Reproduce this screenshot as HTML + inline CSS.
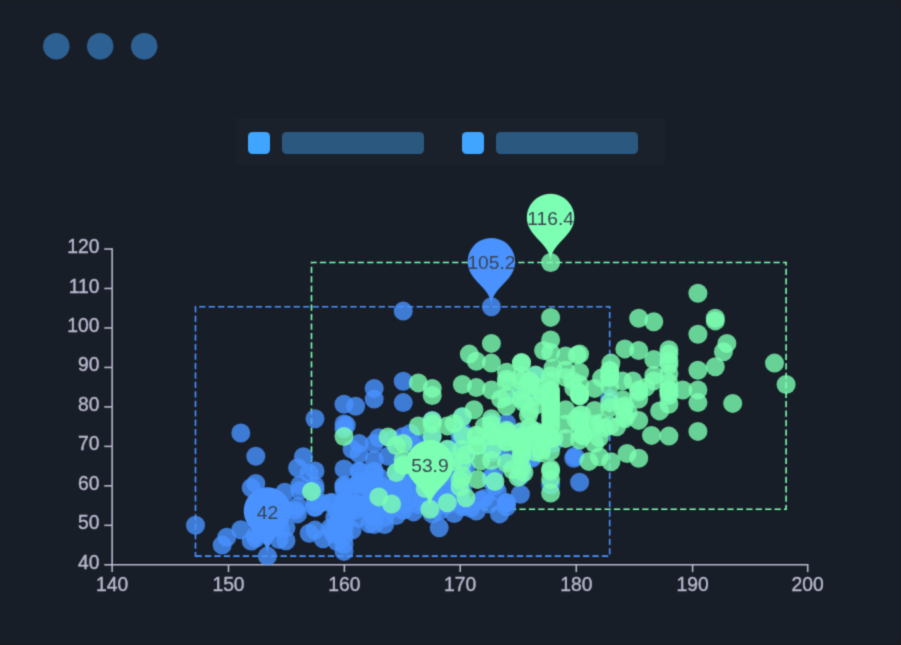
<!DOCTYPE html>
<html lang="en"><head><meta charset="utf-8"><title>Scatter</title>
<style>
html,body{margin:0;padding:0;background:#191c20;}
body{width:901px;height:645px;overflow:hidden;position:relative;font-family:"Liberation Sans",sans-serif;}
svg{position:absolute;left:0;top:0;display:block}
text{font-family:"Liberation Sans",sans-serif;}
.ax{font-size:19.3px;fill:#b9b8ce;stroke:#b9b8ce;stroke-width:0.4px;}
.pl{font-size:19.2px;fill:#3b4454;text-anchor:middle}
</style></head><body>
<svg width="901" height="645" viewBox="0 0 901 645">
<defs><filter id="soft" x="0" y="0" width="1" height="1" color-interpolation-filters="sRGB"><feConvolveMatrix order="3" kernelMatrix="1 4 1 4 16 4 1 4 1" divisor="36" edgeMode="duplicate" preserveAlpha="true"/></filter></defs>
<g filter="url(#soft)">
<rect width="901" height="645" fill="#191c20"/>
<rect x="-0.3" y="0.9" width="900.3" height="643.1" rx="5" fill="#181e28"/>

<circle cx="56.3" cy="46.2" r="13.2" fill="#2d6193"/>
<circle cx="100.2" cy="46.2" r="13.2" fill="#2d6193"/>
<circle cx="144.2" cy="46.2" r="13.2" fill="#2d6193"/>
<rect x="236" y="117.9" width="429.1" height="47.1" fill="#1a212a"/>
<rect x="248" y="132" width="22" height="22" rx="4.5" fill="#40a5ff"/>
<rect x="282" y="132" width="142" height="22" rx="4.5" fill="#2a587f"/>
<rect x="462" y="132" width="22" height="22" rx="4.5" fill="#40a5ff"/>
<rect x="496" y="132" width="142" height="22" rx="4.5" fill="#2a587f"/>
<path d="M195.5,556.1 H609.7 V306.7 H195.5 Z" fill="none" stroke="#4992ff" stroke-width="1.58" stroke-dasharray="6.3 3.15"/>
<path d="M311.5,509.2 H786.1 V262.5 H311.5 Z" fill="none" stroke="#7cffb2" stroke-width="1.58" stroke-dasharray="6.3 3.15"/>
<g stroke="#b9b8ce" stroke-width="1.58" fill="none">
<path d="M112.15,248.21 V565.59"/>
<path d="M111.36,564.80 H808.49"/>
<path d="M104.25,564.80 H112.15"/>
<path d="M104.25,525.32 H112.15"/>
<path d="M104.25,485.85 H112.15"/>
<path d="M104.25,446.37 H112.15"/>
<path d="M104.25,406.90 H112.15"/>
<path d="M104.25,367.42 H112.15"/>
<path d="M104.25,327.95 H112.15"/>
<path d="M104.25,288.47 H112.15"/>
<path d="M104.25,249.00 H112.15"/>
<path d="M112.15,564.80 V572.10"/>
<path d="M228.50,564.80 V572.10"/>
<path d="M344.40,564.80 V572.10"/>
<path d="M460.20,564.80 V572.10"/>
<path d="M576.30,564.80 V572.10"/>
<path d="M692.60,564.80 V572.10"/>
<path d="M807.70,564.80 V572.10"/>
</g>
<g class="ax">
<text x="99.5" y="568.8" text-anchor="end">40</text>
<text x="99.5" y="529.3" text-anchor="end">50</text>
<text x="99.5" y="489.8" text-anchor="end">60</text>
<text x="99.5" y="450.4" text-anchor="end">70</text>
<text x="99.5" y="410.9" text-anchor="end">80</text>
<text x="99.5" y="371.4" text-anchor="end">90</text>
<text x="99.5" y="331.9" text-anchor="end">100</text>
<text x="99.5" y="292.5" text-anchor="end">110</text>
<text x="99.5" y="253.0" text-anchor="end">120</text>
<text x="112.2" y="590.6" text-anchor="middle">140</text>
<text x="228.5" y="590.6" text-anchor="middle">150</text>
<text x="344.4" y="590.6" text-anchor="middle">160</text>
<text x="460.2" y="590.6" text-anchor="middle">170</text>
<text x="576.3" y="590.6" text-anchor="middle">180</text>
<text x="692.6" y="590.6" text-anchor="middle">190</text>
<text x="807.7" y="590.6" text-anchor="middle">200</text>
</g>
<defs><clipPath id="gc"><rect x="112.2" y="249.0" width="695.6" height="315.8"/></clipPath></defs>
<g fill="#4992ff" fill-opacity="0.8" clip-path="url(#gc)">
<circle cx="357.9" cy="518.2" r="9.5"/>
<circle cx="431.0" cy="489.0" r="9.5"/>
<circle cx="338.2" cy="527.7" r="9.5"/>
<circle cx="309.2" cy="473.2" r="9.5"/>
<circle cx="295.3" cy="510.3" r="9.5"/>
<circle cx="460.0" cy="489.0" r="9.5"/>
<circle cx="333.6" cy="534.0" r="9.5"/>
<circle cx="413.6" cy="446.4" r="9.5"/>
<circle cx="532.0" cy="458.2" r="9.5"/>
<circle cx="346.3" cy="425.1" r="9.5"/>
<circle cx="489.1" cy="504.0" r="9.5"/>
<circle cx="470.5" cy="508.0" r="9.5"/>
<circle cx="493.7" cy="475.2" r="9.5"/>
<circle cx="267.4" cy="556.1" r="9.5"/>
<circle cx="344.0" cy="524.5" r="9.5"/>
<circle cx="195.5" cy="525.3" r="9.5"/>
<circle cx="439.2" cy="527.7" r="9.5"/>
<circle cx="518.1" cy="433.0" r="9.5"/>
<circle cx="309.2" cy="533.2" r="9.5"/>
<circle cx="432.2" cy="450.4" r="9.5"/>
<circle cx="338.2" cy="522.2" r="9.5"/>
<circle cx="518.1" cy="396.3" r="9.5"/>
<circle cx="422.9" cy="496.1" r="9.5"/>
<circle cx="535.5" cy="375.4" r="9.5"/>
<circle cx="462.4" cy="434.6" r="9.5"/>
<circle cx="506.5" cy="506.8" r="9.5"/>
<circle cx="494.9" cy="485.9" r="9.5"/>
<circle cx="574.9" cy="456.3" r="9.5"/>
<circle cx="465.9" cy="454.3" r="9.5"/>
<circle cx="344.0" cy="536.4" r="9.5"/>
<circle cx="279.0" cy="539.5" r="9.5"/>
<circle cx="367.2" cy="504.8" r="9.5"/>
<circle cx="535.5" cy="394.3" r="9.5"/>
<circle cx="344.0" cy="507.2" r="9.5"/>
<circle cx="251.2" cy="541.1" r="9.5"/>
<circle cx="368.4" cy="510.3" r="9.5"/>
<circle cx="460.0" cy="433.0" r="9.5"/>
<circle cx="346.3" cy="516.3" r="9.5"/>
<circle cx="359.1" cy="453.9" r="9.5"/>
<circle cx="418.3" cy="498.5" r="9.5"/>
<circle cx="447.3" cy="476.0" r="9.5"/>
<circle cx="388.1" cy="491.0" r="9.5"/>
<circle cx="432.2" cy="506.8" r="9.5"/>
<circle cx="344.0" cy="523.8" r="9.5"/>
<circle cx="359.1" cy="483.9" r="9.5"/>
<circle cx="432.2" cy="491.8" r="9.5"/>
<circle cx="403.2" cy="500.1" r="9.5"/>
<circle cx="344.0" cy="523.8" r="9.5"/>
<circle cx="460.0" cy="434.2" r="9.5"/>
<circle cx="315.0" cy="485.9" r="9.5"/>
<circle cx="432.2" cy="481.1" r="9.5"/>
<circle cx="352.1" cy="449.2" r="9.5"/>
<circle cx="381.1" cy="501.3" r="9.5"/>
<circle cx="255.8" cy="538.4" r="9.5"/>
<circle cx="315.0" cy="507.6" r="9.5"/>
<circle cx="440.3" cy="505.6" r="9.5"/>
<circle cx="579.6" cy="482.3" r="9.5"/>
<circle cx="407.8" cy="485.1" r="9.5"/>
<circle cx="402.0" cy="477.2" r="9.5"/>
<circle cx="396.2" cy="483.9" r="9.5"/>
<circle cx="297.6" cy="513.9" r="9.5"/>
<circle cx="344.0" cy="428.7" r="9.5"/>
<circle cx="378.8" cy="477.2" r="9.5"/>
<circle cx="410.2" cy="433.4" r="9.5"/>
<circle cx="355.6" cy="406.2" r="9.5"/>
<circle cx="367.2" cy="506.0" r="9.5"/>
<circle cx="413.6" cy="511.9" r="9.5"/>
<circle cx="506.5" cy="423.1" r="9.5"/>
<circle cx="491.4" cy="480.7" r="9.5"/>
<circle cx="432.2" cy="502.0" r="9.5"/>
<circle cx="240.8" cy="529.7" r="9.5"/>
<circle cx="396.2" cy="515.5" r="9.5"/>
<circle cx="384.6" cy="524.5" r="9.5"/>
<circle cx="251.2" cy="487.8" r="9.5"/>
<circle cx="448.4" cy="475.2" r="9.5"/>
<circle cx="390.4" cy="502.0" r="9.5"/>
<circle cx="357.9" cy="505.6" r="9.5"/>
<circle cx="286.0" cy="540.7" r="9.5"/>
<circle cx="460.0" cy="443.3" r="9.5"/>
<circle cx="532.0" cy="456.7" r="9.5"/>
<circle cx="460.0" cy="448.0" r="9.5"/>
<circle cx="373.0" cy="492.2" r="9.5"/>
<circle cx="463.5" cy="466.1" r="9.5"/>
<circle cx="391.6" cy="439.3" r="9.5"/>
<circle cx="454.2" cy="513.5" r="9.5"/>
<circle cx="381.1" cy="485.9" r="9.5"/>
<circle cx="280.2" cy="528.5" r="9.5"/>
<circle cx="341.7" cy="524.5" r="9.5"/>
<circle cx="497.2" cy="448.8" r="9.5"/>
<circle cx="460.0" cy="501.3" r="9.5"/>
<circle cx="360.3" cy="471.7" r="9.5"/>
<circle cx="448.4" cy="492.2" r="9.5"/>
<circle cx="416.0" cy="490.6" r="9.5"/>
<circle cx="337.1" cy="541.5" r="9.5"/>
<circle cx="373.0" cy="515.9" r="9.5"/>
<circle cx="332.4" cy="530.1" r="9.5"/>
<circle cx="376.5" cy="493.8" r="9.5"/>
<circle cx="332.4" cy="502.4" r="9.5"/>
<circle cx="573.8" cy="458.2" r="9.5"/>
<circle cx="377.7" cy="487.4" r="9.5"/>
<circle cx="355.6" cy="510.3" r="9.5"/>
<circle cx="240.8" cy="433.0" r="9.5"/>
<circle cx="439.2" cy="511.1" r="9.5"/>
<circle cx="447.3" cy="449.6" r="9.5"/>
<circle cx="497.2" cy="491.4" r="9.5"/>
<circle cx="480.9" cy="500.1" r="9.5"/>
<circle cx="552.9" cy="443.3" r="9.5"/>
<circle cx="393.9" cy="485.9" r="9.5"/>
<circle cx="378.8" cy="437.7" r="9.5"/>
<circle cx="442.6" cy="464.6" r="9.5"/>
<circle cx="422.9" cy="498.5" r="9.5"/>
<circle cx="491.4" cy="306.7" r="9.5"/>
<circle cx="384.6" cy="517.4" r="9.5"/>
<circle cx="453.1" cy="471.7" r="9.5"/>
<circle cx="434.5" cy="489.0" r="9.5"/>
<circle cx="338.2" cy="534.0" r="9.5"/>
<circle cx="432.2" cy="473.2" r="9.5"/>
<circle cx="357.9" cy="504.0" r="9.5"/>
<circle cx="344.0" cy="544.3" r="9.5"/>
<circle cx="381.1" cy="508.8" r="9.5"/>
<circle cx="369.5" cy="523.8" r="9.5"/>
<circle cx="359.1" cy="484.3" r="9.5"/>
<circle cx="222.2" cy="545.1" r="9.5"/>
<circle cx="315.0" cy="489.8" r="9.5"/>
<circle cx="381.1" cy="499.3" r="9.5"/>
<circle cx="491.4" cy="477.2" r="9.5"/>
<circle cx="286.0" cy="527.7" r="9.5"/>
<circle cx="303.4" cy="456.7" r="9.5"/>
<circle cx="390.4" cy="509.5" r="9.5"/>
<circle cx="354.5" cy="507.2" r="9.5"/>
<circle cx="376.5" cy="493.0" r="9.5"/>
<circle cx="425.2" cy="485.9" r="9.5"/>
<circle cx="344.0" cy="505.6" r="9.5"/>
<circle cx="344.0" cy="551.4" r="9.5"/>
<circle cx="447.3" cy="483.1" r="9.5"/>
<circle cx="323.1" cy="538.7" r="9.5"/>
<circle cx="297.6" cy="467.7" r="9.5"/>
<circle cx="344.0" cy="529.3" r="9.5"/>
<circle cx="426.4" cy="476.4" r="9.5"/>
<circle cx="320.8" cy="502.8" r="9.5"/>
<circle cx="432.2" cy="493.8" r="9.5"/>
<circle cx="297.6" cy="506.4" r="9.5"/>
<circle cx="368.4" cy="488.2" r="9.5"/>
<circle cx="499.5" cy="513.9" r="9.5"/>
<circle cx="341.7" cy="511.9" r="9.5"/>
<circle cx="465.9" cy="467.3" r="9.5"/>
<circle cx="334.7" cy="517.4" r="9.5"/>
<circle cx="315.0" cy="500.9" r="9.5"/>
<circle cx="359.1" cy="470.9" r="9.5"/>
<circle cx="374.2" cy="472.5" r="9.5"/>
<circle cx="344.0" cy="487.1" r="9.5"/>
<circle cx="447.3" cy="497.7" r="9.5"/>
<circle cx="403.2" cy="468.9" r="9.5"/>
<circle cx="374.2" cy="524.5" r="9.5"/>
<circle cx="403.2" cy="436.5" r="9.5"/>
<circle cx="418.3" cy="504.8" r="9.5"/>
<circle cx="344.0" cy="501.3" r="9.5"/>
<circle cx="255.8" cy="483.5" r="9.5"/>
<circle cx="462.4" cy="449.2" r="9.5"/>
<circle cx="374.2" cy="388.4" r="9.5"/>
<circle cx="462.4" cy="501.3" r="9.5"/>
<circle cx="330.1" cy="502.8" r="9.5"/>
<circle cx="491.4" cy="447.6" r="9.5"/>
<circle cx="432.2" cy="420.4" r="9.5"/>
<circle cx="374.2" cy="479.6" r="9.5"/>
<circle cx="432.2" cy="461.8" r="9.5"/>
<circle cx="299.9" cy="490.6" r="9.5"/>
<circle cx="520.4" cy="458.2" r="9.5"/>
<circle cx="484.4" cy="498.5" r="9.5"/>
<circle cx="374.2" cy="490.6" r="9.5"/>
<circle cx="344.0" cy="501.3" r="9.5"/>
<circle cx="403.2" cy="488.6" r="9.5"/>
<circle cx="609.7" cy="399.1" r="9.5"/>
<circle cx="418.3" cy="442.9" r="9.5"/>
<circle cx="403.2" cy="497.7" r="9.5"/>
<circle cx="550.6" cy="485.1" r="9.5"/>
<circle cx="403.2" cy="492.2" r="9.5"/>
<circle cx="521.5" cy="435.0" r="9.5"/>
<circle cx="284.8" cy="508.4" r="9.5"/>
<circle cx="330.1" cy="528.1" r="9.5"/>
<circle cx="491.4" cy="422.3" r="9.5"/>
<circle cx="447.3" cy="504.8" r="9.5"/>
<circle cx="359.1" cy="495.7" r="9.5"/>
<circle cx="432.2" cy="504.8" r="9.5"/>
<circle cx="403.2" cy="463.4" r="9.5"/>
<circle cx="521.5" cy="463.4" r="9.5"/>
<circle cx="315.0" cy="530.1" r="9.5"/>
<circle cx="388.1" cy="490.6" r="9.5"/>
<circle cx="432.2" cy="470.9" r="9.5"/>
<circle cx="403.2" cy="504.0" r="9.5"/>
<circle cx="403.2" cy="474.4" r="9.5"/>
<circle cx="447.3" cy="498.5" r="9.5"/>
<circle cx="374.2" cy="509.2" r="9.5"/>
<circle cx="396.2" cy="472.5" r="9.5"/>
<circle cx="535.5" cy="431.4" r="9.5"/>
<circle cx="447.3" cy="477.2" r="9.5"/>
<circle cx="521.5" cy="470.9" r="9.5"/>
<circle cx="337.1" cy="511.9" r="9.5"/>
<circle cx="344.0" cy="511.1" r="9.5"/>
<circle cx="462.4" cy="504.8" r="9.5"/>
<circle cx="374.2" cy="443.6" r="9.5"/>
<circle cx="432.2" cy="506.8" r="9.5"/>
<circle cx="374.2" cy="506.8" r="9.5"/>
<circle cx="352.1" cy="501.3" r="9.5"/>
<circle cx="344.0" cy="489.0" r="9.5"/>
<circle cx="315.0" cy="470.9" r="9.5"/>
<circle cx="374.2" cy="506.8" r="9.5"/>
<circle cx="255.8" cy="535.2" r="9.5"/>
<circle cx="462.4" cy="454.7" r="9.5"/>
<circle cx="403.2" cy="402.6" r="9.5"/>
<circle cx="491.4" cy="443.6" r="9.5"/>
<circle cx="403.2" cy="481.5" r="9.5"/>
<circle cx="462.4" cy="470.9" r="9.5"/>
<circle cx="462.4" cy="506.8" r="9.5"/>
<circle cx="462.4" cy="488.6" r="9.5"/>
<circle cx="359.1" cy="443.6" r="9.5"/>
<circle cx="432.2" cy="513.9" r="9.5"/>
<circle cx="432.2" cy="474.4" r="9.5"/>
<circle cx="403.2" cy="381.3" r="9.5"/>
<circle cx="374.2" cy="459.8" r="9.5"/>
<circle cx="255.8" cy="456.3" r="9.5"/>
<circle cx="447.3" cy="473.2" r="9.5"/>
<circle cx="462.4" cy="431.4" r="9.5"/>
<circle cx="520.4" cy="476.0" r="9.5"/>
<circle cx="520.4" cy="494.2" r="9.5"/>
<circle cx="344.0" cy="503.2" r="9.5"/>
<circle cx="403.2" cy="311.1" r="9.5"/>
<circle cx="506.5" cy="502.8" r="9.5"/>
<circle cx="462.4" cy="416.8" r="9.5"/>
<circle cx="344.0" cy="404.2" r="9.5"/>
<circle cx="432.2" cy="467.3" r="9.5"/>
<circle cx="432.2" cy="436.5" r="9.5"/>
<circle cx="432.2" cy="479.6" r="9.5"/>
<circle cx="284.8" cy="492.2" r="9.5"/>
<circle cx="374.2" cy="399.1" r="9.5"/>
<circle cx="521.5" cy="470.9" r="9.5"/>
<circle cx="476.3" cy="511.1" r="9.5"/>
<circle cx="315.0" cy="506.8" r="9.5"/>
<circle cx="403.2" cy="510.3" r="9.5"/>
<circle cx="344.0" cy="485.1" r="9.5"/>
<circle cx="506.5" cy="431.4" r="9.5"/>
<circle cx="374.2" cy="479.6" r="9.5"/>
<circle cx="506.5" cy="502.8" r="9.5"/>
<circle cx="374.2" cy="470.9" r="9.5"/>
<circle cx="359.1" cy="481.5" r="9.5"/>
<circle cx="299.9" cy="485.1" r="9.5"/>
<circle cx="226.8" cy="537.2" r="9.5"/>
<circle cx="454.2" cy="495.7" r="9.5"/>
<circle cx="344.0" cy="468.9" r="9.5"/>
<circle cx="521.5" cy="470.9" r="9.5"/>
<circle cx="454.2" cy="456.3" r="9.5"/>
<circle cx="344.0" cy="423.9" r="9.5"/>
<circle cx="491.4" cy="452.7" r="9.5"/>
<circle cx="374.2" cy="479.6" r="9.5"/>
<circle cx="315.0" cy="418.8" r="9.5"/>
<circle cx="535.5" cy="438.5" r="9.5"/>
<circle cx="395.1" cy="502.8" r="9.5"/>
<circle cx="352.1" cy="530.1" r="9.5"/>
<circle cx="506.5" cy="459.8" r="9.5"/>
<circle cx="388.1" cy="456.3" r="9.5"/>
</g>
<g fill="#7cffb2" fill-opacity="0.8" clip-path="url(#gc)">
<circle cx="506.5" cy="463.0" r="9.5"/>
<circle cx="521.5" cy="438.5" r="9.5"/>
<circle cx="732.7" cy="403.4" r="9.5"/>
<circle cx="651.5" cy="435.4" r="9.5"/>
<circle cx="659.6" cy="410.9" r="9.5"/>
<circle cx="593.5" cy="426.7" r="9.5"/>
<circle cx="622.5" cy="380.9" r="9.5"/>
<circle cx="628.3" cy="412.5" r="9.5"/>
<circle cx="518.1" cy="477.2" r="9.5"/>
<circle cx="622.5" cy="399.8" r="9.5"/>
<circle cx="576.1" cy="419.6" r="9.5"/>
<circle cx="550.6" cy="392.0" r="9.5"/>
<circle cx="715.3" cy="366.7" r="9.5"/>
<circle cx="529.7" cy="427.5" r="9.5"/>
<circle cx="506.5" cy="441.7" r="9.5"/>
<circle cx="622.5" cy="407.7" r="9.5"/>
<circle cx="723.4" cy="351.7" r="9.5"/>
<circle cx="477.5" cy="445.6" r="9.5"/>
<circle cx="494.9" cy="436.1" r="9.5"/>
<circle cx="529.7" cy="382.9" r="9.5"/>
<circle cx="529.7" cy="410.9" r="9.5"/>
<circle cx="581.9" cy="414.8" r="9.5"/>
<circle cx="491.4" cy="460.6" r="9.5"/>
<circle cx="529.7" cy="380.9" r="9.5"/>
<circle cx="500.7" cy="399.1" r="9.5"/>
<circle cx="552.9" cy="368.3" r="9.5"/>
<circle cx="579.6" cy="395.1" r="9.5"/>
<circle cx="579.6" cy="420.4" r="9.5"/>
<circle cx="396.2" cy="472.5" r="9.5"/>
<circle cx="494.9" cy="481.5" r="9.5"/>
<circle cx="616.7" cy="426.7" r="9.5"/>
<circle cx="523.9" cy="445.6" r="9.5"/>
<circle cx="668.9" cy="436.1" r="9.5"/>
<circle cx="682.8" cy="390.0" r="9.5"/>
<circle cx="492.5" cy="449.2" r="9.5"/>
<circle cx="460.0" cy="487.1" r="9.5"/>
<circle cx="599.3" cy="456.7" r="9.5"/>
<circle cx="460.0" cy="480.0" r="9.5"/>
<circle cx="550.6" cy="451.1" r="9.5"/>
<circle cx="624.8" cy="405.8" r="9.5"/>
<circle cx="653.8" cy="375.4" r="9.5"/>
<circle cx="476.3" cy="387.6" r="9.5"/>
<circle cx="491.4" cy="432.2" r="9.5"/>
<circle cx="521.5" cy="437.3" r="9.5"/>
<circle cx="579.6" cy="395.9" r="9.5"/>
<circle cx="609.7" cy="371.8" r="9.5"/>
<circle cx="668.9" cy="390.0" r="9.5"/>
<circle cx="543.6" cy="350.5" r="9.5"/>
<circle cx="484.4" cy="426.3" r="9.5"/>
<circle cx="425.2" cy="488.6" r="9.5"/>
<circle cx="454.2" cy="423.5" r="9.5"/>
<circle cx="506.5" cy="381.7" r="9.5"/>
<circle cx="491.4" cy="424.7" r="9.5"/>
<circle cx="601.6" cy="378.1" r="9.5"/>
<circle cx="391.6" cy="504.0" r="9.5"/>
<circle cx="378.8" cy="496.9" r="9.5"/>
<circle cx="477.5" cy="479.6" r="9.5"/>
<circle cx="624.8" cy="418.8" r="9.5"/>
<circle cx="506.5" cy="379.3" r="9.5"/>
<circle cx="506.5" cy="436.9" r="9.5"/>
<circle cx="541.3" cy="439.3" r="9.5"/>
<circle cx="645.7" cy="387.2" r="9.5"/>
<circle cx="425.2" cy="452.7" r="9.5"/>
<circle cx="480.9" cy="461.0" r="9.5"/>
<circle cx="599.3" cy="437.7" r="9.5"/>
<circle cx="425.2" cy="466.9" r="9.5"/>
<circle cx="550.6" cy="426.7" r="9.5"/>
<circle cx="396.2" cy="445.6" r="9.5"/>
<circle cx="715.3" cy="320.9" r="9.5"/>
<circle cx="523.9" cy="472.5" r="9.5"/>
<circle cx="474.0" cy="409.7" r="9.5"/>
<circle cx="594.6" cy="410.5" r="9.5"/>
<circle cx="429.9" cy="454.7" r="9.5"/>
<circle cx="588.8" cy="461.4" r="9.5"/>
<circle cx="541.3" cy="452.7" r="9.5"/>
<circle cx="512.3" cy="469.7" r="9.5"/>
<circle cx="547.1" cy="437.7" r="9.5"/>
<circle cx="465.9" cy="497.7" r="9.5"/>
<circle cx="603.9" cy="427.9" r="9.5"/>
<circle cx="774.5" cy="363.1" r="9.5"/>
<circle cx="577.2" cy="354.9" r="9.5"/>
<circle cx="523.9" cy="402.6" r="9.5"/>
<circle cx="583.0" cy="435.0" r="9.5"/>
<circle cx="627.1" cy="453.5" r="9.5"/>
<circle cx="523.9" cy="442.1" r="9.5"/>
<circle cx="583.0" cy="435.8" r="9.5"/>
<circle cx="541.3" cy="435.8" r="9.5"/>
<circle cx="542.4" cy="392.7" r="9.5"/>
<circle cx="594.6" cy="423.9" r="9.5"/>
<circle cx="535.5" cy="433.8" r="9.5"/>
<circle cx="518.1" cy="444.8" r="9.5"/>
<circle cx="506.5" cy="432.2" r="9.5"/>
<circle cx="403.2" cy="443.6" r="9.5"/>
<circle cx="541.3" cy="450.0" r="9.5"/>
<circle cx="715.3" cy="318.2" r="9.5"/>
<circle cx="535.5" cy="451.9" r="9.5"/>
<circle cx="453.1" cy="461.8" r="9.5"/>
<circle cx="600.4" cy="423.1" r="9.5"/>
<circle cx="573.8" cy="388.4" r="9.5"/>
<circle cx="521.5" cy="375.8" r="9.5"/>
<circle cx="632.9" cy="380.9" r="9.5"/>
<circle cx="544.8" cy="433.0" r="9.5"/>
<circle cx="429.9" cy="509.2" r="9.5"/>
<circle cx="554.0" cy="437.7" r="9.5"/>
<circle cx="447.3" cy="502.8" r="9.5"/>
<circle cx="311.5" cy="491.4" r="9.5"/>
<circle cx="579.6" cy="393.5" r="9.5"/>
<circle cx="462.4" cy="435.0" r="9.5"/>
<circle cx="550.6" cy="468.9" r="9.5"/>
<circle cx="491.4" cy="436.5" r="9.5"/>
<circle cx="403.2" cy="465.4" r="9.5"/>
<circle cx="653.8" cy="380.9" r="9.5"/>
<circle cx="403.2" cy="465.4" r="9.5"/>
<circle cx="506.5" cy="372.2" r="9.5"/>
<circle cx="521.5" cy="390.0" r="9.5"/>
<circle cx="638.7" cy="458.2" r="9.5"/>
<circle cx="550.6" cy="423.9" r="9.5"/>
<circle cx="579.6" cy="354.1" r="9.5"/>
<circle cx="579.6" cy="395.5" r="9.5"/>
<circle cx="550.6" cy="493.0" r="9.5"/>
<circle cx="550.6" cy="408.1" r="9.5"/>
<circle cx="550.6" cy="411.7" r="9.5"/>
<circle cx="550.6" cy="438.5" r="9.5"/>
<circle cx="550.6" cy="262.5" r="9.5"/>
<circle cx="388.1" cy="436.9" r="9.5"/>
<circle cx="668.9" cy="392.0" r="9.5"/>
<circle cx="786.1" cy="384.5" r="9.5"/>
<circle cx="521.5" cy="363.1" r="9.5"/>
<circle cx="418.3" cy="382.9" r="9.5"/>
<circle cx="697.9" cy="370.3" r="9.5"/>
<circle cx="418.3" cy="425.9" r="9.5"/>
<circle cx="550.6" cy="415.2" r="9.5"/>
<circle cx="572.6" cy="380.9" r="9.5"/>
<circle cx="491.4" cy="363.1" r="9.5"/>
<circle cx="697.9" cy="431.4" r="9.5"/>
<circle cx="638.7" cy="420.4" r="9.5"/>
<circle cx="447.3" cy="449.2" r="9.5"/>
<circle cx="432.2" cy="388.4" r="9.5"/>
<circle cx="521.5" cy="467.3" r="9.5"/>
<circle cx="462.4" cy="449.2" r="9.5"/>
<circle cx="697.9" cy="293.3" r="9.5"/>
<circle cx="550.6" cy="380.9" r="9.5"/>
<circle cx="697.9" cy="402.6" r="9.5"/>
<circle cx="550.6" cy="375.8" r="9.5"/>
<circle cx="624.8" cy="348.9" r="9.5"/>
<circle cx="535.5" cy="405.4" r="9.5"/>
<circle cx="550.6" cy="437.7" r="9.5"/>
<circle cx="579.6" cy="440.1" r="9.5"/>
<circle cx="476.3" cy="435.0" r="9.5"/>
<circle cx="491.4" cy="390.0" r="9.5"/>
<circle cx="491.4" cy="418.8" r="9.5"/>
<circle cx="550.6" cy="470.9" r="9.5"/>
<circle cx="550.6" cy="402.6" r="9.5"/>
<circle cx="609.7" cy="402.6" r="9.5"/>
<circle cx="462.4" cy="384.5" r="9.5"/>
<circle cx="432.2" cy="451.1" r="9.5"/>
<circle cx="521.5" cy="454.7" r="9.5"/>
<circle cx="403.2" cy="459.8" r="9.5"/>
<circle cx="638.7" cy="318.2" r="9.5"/>
<circle cx="594.6" cy="443.6" r="9.5"/>
<circle cx="491.4" cy="343.4" r="9.5"/>
<circle cx="697.9" cy="390.0" r="9.5"/>
<circle cx="565.6" cy="377.4" r="9.5"/>
<circle cx="521.5" cy="438.5" r="9.5"/>
<circle cx="462.4" cy="461.8" r="9.5"/>
<circle cx="726.9" cy="343.4" r="9.5"/>
<circle cx="476.3" cy="361.2" r="9.5"/>
<circle cx="550.6" cy="399.1" r="9.5"/>
<circle cx="550.6" cy="339.9" r="9.5"/>
<circle cx="432.2" cy="449.2" r="9.5"/>
<circle cx="432.2" cy="395.5" r="9.5"/>
<circle cx="579.6" cy="423.9" r="9.5"/>
<circle cx="609.7" cy="408.1" r="9.5"/>
<circle cx="535.5" cy="431.4" r="9.5"/>
<circle cx="653.8" cy="359.6" r="9.5"/>
<circle cx="668.9" cy="390.0" r="9.5"/>
<circle cx="668.9" cy="382.9" r="9.5"/>
<circle cx="550.6" cy="399.1" r="9.5"/>
<circle cx="506.5" cy="396.3" r="9.5"/>
<circle cx="550.6" cy="404.2" r="9.5"/>
<circle cx="476.3" cy="445.6" r="9.5"/>
<circle cx="638.7" cy="399.1" r="9.5"/>
<circle cx="638.7" cy="390.0" r="9.5"/>
<circle cx="668.9" cy="364.7" r="9.5"/>
<circle cx="668.9" cy="361.2" r="9.5"/>
<circle cx="609.7" cy="370.3" r="9.5"/>
<circle cx="535.5" cy="386.4" r="9.5"/>
<circle cx="521.5" cy="449.2" r="9.5"/>
<circle cx="521.5" cy="431.4" r="9.5"/>
<circle cx="668.9" cy="404.2" r="9.5"/>
<circle cx="668.9" cy="395.5" r="9.5"/>
<circle cx="521.5" cy="380.9" r="9.5"/>
<circle cx="465.9" cy="454.7" r="9.5"/>
<circle cx="565.6" cy="356.0" r="9.5"/>
<circle cx="550.6" cy="352.5" r="9.5"/>
<circle cx="521.5" cy="442.1" r="9.5"/>
<circle cx="609.7" cy="425.9" r="9.5"/>
<circle cx="469.3" cy="354.1" r="9.5"/>
<circle cx="668.9" cy="354.1" r="9.5"/>
<circle cx="579.6" cy="415.2" r="9.5"/>
<circle cx="550.6" cy="479.6" r="9.5"/>
<circle cx="638.7" cy="350.5" r="9.5"/>
<circle cx="447.3" cy="425.9" r="9.5"/>
<circle cx="638.7" cy="392.0" r="9.5"/>
<circle cx="579.6" cy="384.5" r="9.5"/>
<circle cx="506.5" cy="430.2" r="9.5"/>
<circle cx="432.2" cy="458.2" r="9.5"/>
<circle cx="609.7" cy="377.4" r="9.5"/>
<circle cx="344.0" cy="436.5" r="9.5"/>
<circle cx="579.6" cy="372.2" r="9.5"/>
<circle cx="432.2" cy="423.9" r="9.5"/>
<circle cx="653.8" cy="321.7" r="9.5"/>
<circle cx="521.5" cy="362.4" r="9.5"/>
<circle cx="521.5" cy="456.3" r="9.5"/>
<circle cx="528.5" cy="415.2" r="9.5"/>
<circle cx="521.5" cy="399.1" r="9.5"/>
<circle cx="565.6" cy="423.9" r="9.5"/>
<circle cx="594.6" cy="388.4" r="9.5"/>
<circle cx="550.6" cy="419.6" r="9.5"/>
<circle cx="609.7" cy="386.4" r="9.5"/>
<circle cx="550.6" cy="317.4" r="9.5"/>
<circle cx="624.8" cy="416.8" r="9.5"/>
<circle cx="565.6" cy="438.5" r="9.5"/>
<circle cx="535.5" cy="375.0" r="9.5"/>
<circle cx="668.9" cy="349.7" r="9.5"/>
<circle cx="506.5" cy="442.1" r="9.5"/>
<circle cx="432.2" cy="467.3" r="9.5"/>
<circle cx="476.3" cy="436.5" r="9.5"/>
<circle cx="609.7" cy="377.4" r="9.5"/>
<circle cx="432.2" cy="436.5" r="9.5"/>
<circle cx="462.4" cy="416.8" r="9.5"/>
<circle cx="506.5" cy="406.2" r="9.5"/>
<circle cx="668.9" cy="373.8" r="9.5"/>
<circle cx="535.5" cy="397.1" r="9.5"/>
<circle cx="579.6" cy="433.0" r="9.5"/>
<circle cx="432.2" cy="420.8" r="9.5"/>
<circle cx="610.9" cy="461.8" r="9.5"/>
<circle cx="610.9" cy="363.1" r="9.5"/>
<circle cx="565.6" cy="370.3" r="9.5"/>
<circle cx="462.4" cy="476.0" r="9.5"/>
<circle cx="550.6" cy="395.5" r="9.5"/>
<circle cx="565.6" cy="409.7" r="9.5"/>
<circle cx="697.9" cy="334.3" r="9.5"/>
<circle cx="550.6" cy="390.0" r="9.5"/>
<circle cx="579.6" cy="393.5" r="9.5"/>
<circle cx="579.6" cy="393.5" r="9.5"/>
</g>
<path d="M469.96,271.74 A23.70,23.70 0 1 1 512.79,271.74 C506.70,284.58 491.38,290.13 491.38,306.72 C491.38,290.13 476.06,284.58 469.96,271.74 Z" fill="#4992ff"/>
<text class="pl" x="491.4" y="269.4">105.2</text>
<path d="M246.03,521.12 A23.70,23.70 0 1 1 288.85,521.12 C282.76,533.97 267.44,539.52 267.44,556.11 C267.44,539.52 252.12,533.97 246.03,521.12 Z" fill="#4992ff"/>
<text class="pl" x="267.4" y="518.8">42</text>
<path d="M529.14,227.54 A23.70,23.70 0 1 1 571.97,227.54 C565.87,240.39 550.55,245.94 550.55,262.53 C550.55,245.94 535.23,240.39 529.14,227.54 Z" fill="#7cffb2"/>
<text class="pl" x="550.6" y="225.2">116.4</text>
<path d="M408.47,474.16 A23.70,23.70 0 1 1 451.30,474.16 C445.20,487.01 429.88,492.56 429.88,509.15 C429.88,492.56 414.56,487.01 408.47,474.16 Z" fill="#7cffb2"/>
<text class="pl" x="429.9" y="471.8">53.9</text>
</g>
</svg>
</body></html>
